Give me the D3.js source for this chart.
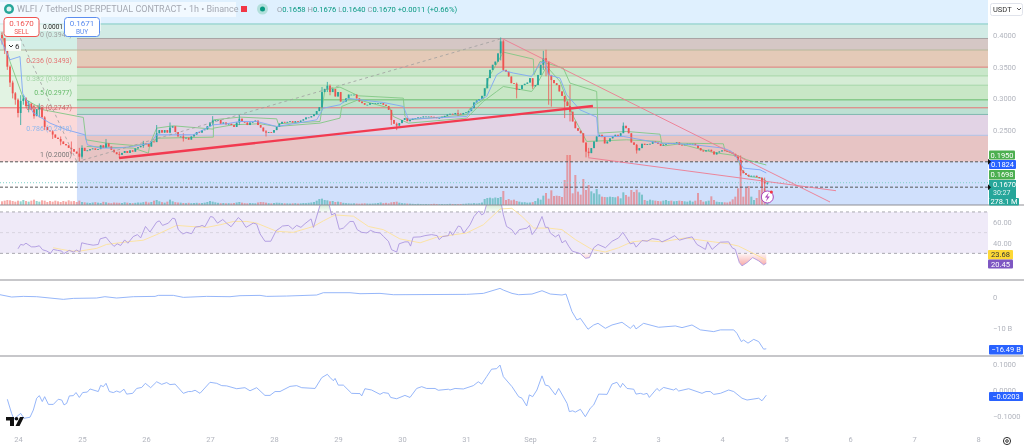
<!DOCTYPE html>
<html>
<head>
<meta charset="utf-8">
<script src="https://cdn.jsdelivr.net/npm/d3@7"></script>
<style>
  body { margin: 0; background: #fff; }
  svg { display: block; font-family: Roboto, "Liberation Sans", sans-serif; filter: blur(0.35px); }
  .tick text { fill: #b2b5be; }
</style>
</head>
<body>
<div class="chart"></div>
<script>
// hourly candles, the first one is 6 hours before Aug 24 00:00
var firstHour = -6;
var closes = [
  .395,.377,.350,.325,.308,.298,.277,.296,.300,.288,
  .292,.282,.272,.283,.286,.270,.255,.250,.248,.243,
  .238,.236,.232,.228,.226,.222,.220,.216,.213,.208,
  .222,.217,.218,.220,.221,.219,.220,.226,.222,.229,
  .224,.219,.215,.212,.211,.214,.217,.214,.218,.216,
  .221,.223,.225,.229,.228,.224,.232,.231,.245,.250,
  .246,.250,.246,.254,.256,.247,.240,.240,.237,.238,
  .235,.240,.243,.247,.246,.250,.251,.256,.262,.265,
  .266,.266,.260,.262,.259,.260,.258,.255,.262,.268,
  .263,.262,.258,.262,.263,.265,.258,.254,.248,.246,
  .247,.246,.250,.255,.260,.263,.262,.263,.264,.262,
  .264,.263,.265,.267,.270,.270,.272,.275,.280,.286,
  .310,.315,.320,.310,.315,.303,.310,.295,.295,.300,
  .306,.306,.306,.300,.295,.2925,.290,.290,.2925,.2925,
  .2925,.2925,.2925,.290,.288,.282,.266,.260,.257,.261,
  .266,.269,.264,.266,.268,.269,.270,.270,.2715,.2715,
  .2715,.271,.270,.269,.269,.271,.2725,.2745,.2757,.275,
  .277,.276,.275,.277,.278,.280,.2846,.2936,.2967,.299,
  .304,.316,.332,.345,.353,.358,.371,.390,.345,.342,
  .3346,.324,.323,.3135,.3146,.321,.323,.325,.332,.319,
  .321,.337,.353,.3635,.358,.337,.329,.324,.321,.311,
  .304,.295,.288,.279,.2636,.253,.249,.245,.2305,.216,
  .2137,.2216,.232,.240,.2426,.239,.229,.232,.237,.240,
  .2426,.241,.245,.2568,.253,.245,.2305,.2268,.218,.2216,
  .2284,.2268,.228,.2284,.232,.2305,.2284,.2252,.2268,.228,
  .2294,.2284,.2294,.2305,.2268,.2263,.2273,.2284,.2284,.2284,
  .2263,.2216,.218,.2163,.218,.219,.2163,.2116,.2147,.2163,
  .218,.217,.216,.215,.2126,.2084,.203,.1863,.182,.1795,
  .177,.178,.178,.176,.1742,.169,.1658,.1670
];
// candles with a visible wick: index, high, low
var wicks = [
  [0,.405,.385],[1,.395,.37],[2,.378,.345],[3,.352,.318],[4,.328,.30],[5,.31,.29],[6,.30,.27],
  [7,.305,.258],[8,.305,.29],[9,.302,.285],[10,.296,.278],[12,.288,.268],[14,.292,.27],[16,.272,.25],
  [19,.25,.236],[22,.24,.226],[26,.232,.212],[29,.222,.2],[30,.226,.205],[39,.236,.222],[44,.216,.206],
  [53,.233,.222],[58,.258,.24],[63,.262,.245],[68,.245,.232],[79,.272,.258],[89,.274,.258],[99,.25,.24],
  [120,.318,.284],[122,.326,.31],[123,.322,.305],[146,.272,.258],[148,.262,.25],[171,.282,.272],
  [187,.396,.36],[188,.392,.343],[193,.325,.3],[199,.33,.315],[203,.375,.345],[204,.3767,.335],
  [205,.358,.29],[206,.335,.287],[211,.30,.269],[213,.3215,.2636],[219,.23,.207],[220,.222,.208],
  [233,.262,.25],[238,.228,.213],[276,.21,.201],[277,.21,.178],[285,.176,.16],[286,.175,.151],[287,.1676,.164]
];
var volumes = [
  220,260,300,280,240,200,260,220,300,240,200,260,320,240,200,280,260,180,240,200,
  260,220,180,240,200,280,220,240,180,260,
  180,160,140,120,150,170,140,120,190,160,130,110,150,140,130,120,160,140,120,110,130,150,140,170,
  200,150,180,260,300,220,170,140,200,320,220,170,150,140,120,110,130,110,120,130,110,120,140,180,240,200,160,
  130,110,120,100,110,100,120,150,180,140,110,100,120,110,100,150,180,170,140,110,100,120,140,130,110,100,100,90,100,110,90,100,120,110,130,150,180,
  260,360,380,300,280,220,240,180,200,170,
  130,110,100,90,100,90,80,90,100,90,80,90,100,120,150,110,130,100,
  160,180,200,140,110,100,90,80,70,60,70,60,50,60,50,60,70,60,50,60,50,60,70,60,60,50,60,70,80,
  100,90,110,90,110,150,360,420,440,400,450,420,480,
  840,300,360,280,320,240,200,160,170,140,150,170,240,400,320,560,720,380,880,540,560,540,480,
  1500,3000,3000,700,1800,800,620,1560,900,1200,820,700,960,640,500,480,470,500,480,460,520,400,
  760,600,500,900,780,920,760,620,300,250,320,280,260,240,220,260,300,240,260,220,240,260,
  240,220,200,260,200,260,720,300,200,220,260,520,300,200,180,170,160,150,200,340,500,1000,
  2700,500,1020,1140,500,300,420,900,1620,1000,278
];

var blueHours = [-6.75,-3,.75,1.75,5.75,12,18.25,25.1,26,30.75,37,43.25,49.5,52,58.25,65.75,73.25,78.25,83.25,89.5,97,103.25,112,114.5,120.75,123.9,128.25,137,144.5,146.4,168.25,172,175.75,179.5,182,185.75,192.6,195.75,197.6,198.9,203.25,205.75,210.75,217,217.6,227,240.75,248.25,255.75,264.5,267.6,270.1,272,278.25,280.6];
var blueValues = [.395,.361,.366,.308,.277,.261,.2505,.2426,.2268,.2216,.2216,.2242,.2294,.2426,.2426,.2426,.2584,.26,.2636,.2636,.2557,.26,.2662,.2846,.29,.3,.2978,.2936,.2873,.2673,.2715,.2952,.303,.3372,.344,.34,.3346,.3556,.3583,.3372,.332,.3057,.282,.2705,.24,.24,.2294,.2284,.2258,.2216,.2163,.2032,.19,.1874,.1824];
var upperHours = [-6.1,-3,2,9.5,24.5,25.5,33.25,43.25,49.5,52,58.25,73.25,73.3,83.25,97,97.6,113.25,115.1,120.75,127.6,144.5,145.1,146.4,168.25,169.5,174.5,176.4,182,193.25,193.5,195.75,198.25,204.5,207,217,217.6,228.25,240.75,241.4,248.25,264.5,265.1,270.1,273.25,280.6];
var upperValues = [.403,.358,.3004,.282,.27,.2347,.2294,.2258,.2284,.2531,.2568,.2515,.2662,.2705,.2678,.26,.2636,.3136,.3178,.3041,.3004,.2715,.2662,.2741,.2846,.2978,.332,.373,.362,.3372,.3583,.3556,.3477,.3241,.3109,.2452,.2478,.2436,.2294,.2294,.2284,.2179,.2095,.2032,.195];
var lowerHours = [25.75,43.25,48.9,49.5,52.6,73.25,73.3,80.75,90.75,97,113.25,120.75,121.4,127.6,139.5,140.75,146.4,168.25,174.5,179.5,182,192.6,194.5,198.25,203.25,208.25,213.25,228.25,240.75,242.6,248.25,255.75,260.75,269.5,271.4,273.9,278.9,280.6];
var lowerValues = [.2242,.2216,.2137,.2294,.2373,.2389,.2531,.2584,.26,.2557,.261,.2689,.2873,.2978,.2846,.2715,.261,.2689,.2952,.3109,.3188,.3109,.3215,.3504,.3267,.2715,.2321,.2347,.2321,.2252,.2284,.22,.2147,.2095,.1874,.1769,.1742,.1698];

var rsiHours = [0,1,2,3,5,6.4,8,9.2,10.8,12.2,13.2,14.8,16.4,17.2,19.2,20.8,22,23.2,23.9,26,28.2,30.1,30.8,33,34.5,36,37.2,38.5,40,41.2,43.2,44.8,46,47.8,49.5,52,53,54.2,56.4,58,58.9,60.1,61.8,63.2,65.1,66.5,68.2,69,70.1,72.2,73.2,74.8,76.8,78.2,79.9,82.6,83.9,85.5,88.2,89.5,90.8,92.6,94.8,96.8,98.2,99.2,101.4,103,104.5,106.1,107.6,109.9,110.8,113.2,114.2,116.4,117.6,118.9,120.5,122,124.5,125.8,127.2,128.9,130.8,132.2,133.9,135.8,137,138.9,140.1,142,142.9,145.1,146.4,147.2,148.2,150.8,152.6,155.1,157.2,157.9,159.2,161.4,162,163,165.1,166,167.2,169.5,171,172.8,173.9,174.8,175.8,177.6,181.1,182,183.2,185.2,186.5,188,190.9,191.8,192.8,194.6,196.5,197.8,198.8,199.6,201.5,202.8,204,205.3,206.5,207.8,210.9,212.8,214.3,215.9,217.5,220.3,222.8,225.2,226.8,227.8,229.6,230.9,231.8,234,235.9,237.8,240.3,241.5,244,246.3,248,250.9,252.8,254.6,257.8,258.6,260.3,263.4,266.5,267.8,269,270.5,271.5,273.4,275.5,277.8,279.6,280.6];
var rsiValues = [34.4,38.6,38,39.8,36.3,36.3,37.3,33.5,32.2,30,33.8,32.9,32.2,29.7,32.9,31.3,33.2,31.3,40.2,38.9,37.9,38.6,44,45.6,40.8,36.7,39.2,37.6,43,39.8,46.2,48.1,44.9,56,50.6,60.2,61.4,57,59.2,64,63.3,52.9,48.7,50.3,49,55.4,56,57,55.7,65.6,64.9,59.2,62.7,59.2,55.7,64.6,61.7,55.1,59.2,58.3,48.7,41.7,41.7,51.9,54.4,56.4,57,53.5,57,55.1,58.6,63.3,55.1,76,81.4,79.8,67.1,68.7,53.2,54.4,60.8,60.8,52.9,50.3,49.7,52.2,50.3,49.7,46.5,41.7,33.5,31.3,39.2,41.1,41.1,37,45.6,45.9,47.1,48.1,47.1,43.3,46.2,47.1,51.3,47.5,56.4,55.7,49.7,57.6,65.6,71,67.1,68.7,78.3,83,80,67.1,56,52.9,48.1,52.9,54.4,57,48.1,54.4,65.6,55.1,55.1,49.7,45.9,48.1,40.2,42.4,37,32.2,29.7,25.2,25.9,35.4,38.6,35.4,41.7,44.9,50.3,46.5,39.2,40.2,36,42.4,41.7,44.3,43.3,41.1,44,47.1,42.7,44.9,45.9,38.6,33.8,41.1,33.8,40.8,41.1,35.4,33.8,21.1,17.9,21.1,25.9,22.7,18.9,20.45];
var rsiMaHours = [13.2,16.4,20.1,23.2,29.5,33.2,40.8,47,52,59.5,64.5,70.8,75.8,80.8,85.8,89.5,97,103.2,110.8,114.5,118.9,125.8,131.4,137,143.2,150.8,157,168.2,174.5,180.8,185.2,189,193.4,199,204,209,215.2,220.2,225.2,230.2,235.2,241.5,250.2,259,266.5,270.2,274,280.6];
var rsiMaValues = [35.4,33.8,32.2,32.2,34.8,38.6,41.1,42.7,48.1,57,56,55.1,57.6,60.8,60.8,59.2,51.3,50.3,56,61.4,67.1,65.9,56,52.9,44,40.2,45.6,49.7,57.6,72.9,73.5,65.6,54.4,54.4,52.9,43.3,33.8,31.3,35.4,41.1,42.4,41.1,44.9,41.7,39.2,37,32.2,23.68];

// third pane, billions
var flowHours = [-6.75,-2.4,2,7,12,17,20.75,29.5,32.6,37,43.25,51.4,52.6,58.25,62,70.75,79.5,83.25,90.75,93.25,100.75,112,114.5,124.5,128.25,135.75,140.75,168.25,174.5,180.75,182,185.25,187.75,192.75,196.5,199.6,204,205.5,207.75,209.6,210.9,213.75,215.9,217.5,220.25,222.75,226.5,229.6,230.9,231.75,234.6,240.25,246.5,249,252.75,255.9,260.9,263.4,268.4,269.6,271.25,272.1,273.75,275.9,277.75,279.6,280.6];
var flowValues = [.63,-.1,.1,0,-.42,-.84,-.53,-.42,0,-.42,0,.1,.42,.42,-.21,.1,0,.32,.42,.1,.21,.53,1.26,1.26,.95,1.05,.63,.74,1.05,2.63,2.1,1.05,.63,.84,1.89,.84,.53,.84,-4.74,-7.37,-6.84,-10.3,-8.95,-8.42,-10,-8.95,-8.1,-10,-8.95,-10.2,-8.42,-9.68,-9.26,-9.79,-8.95,-10.5,-11.05,-10.5,-10.5,-11.6,-14.2,-13.7,-14.7,-13.5,-14.2,-16.6,-16.49];

// fourth pane
var oscHours = [-4,-2.4,-1.5,-.5,1,2.25,4.5,5.75,7,8,9.1,10,11.4,13.25,15.1,16.4,17.25,18.25,19.25,20.75,21.75,23,24.25,26,27,30.1,31,32,33,34.25,35.75,37,38.25,39.75,40.75,43,44.5,46.4,47.75,49.75,52,53.9,55.75,57,58.9,62,63.9,65.1,66.4,68.25,72,74.5,76.4,78.25,82,85.1,87,89.5,92.6,94.5,96.4,98.25,102,104.5,106.4,111.4,113.9,116,117,118.25,118.9,120.1,122,125.1,128.25,128.9,130.1,132.6,135.75,137,138.9,139.75,142,145.1,147,149.5,151.4,153.25,156.4,157.6,161.4,162,163.9,167,170.75,172.6,173.9,175.75,177.6,179.5,180.75,182,185.25,187.75,189,190.75,191.75,193,194.6,196.5,197.75,199,201.5,202.75,205.9,206.75,208,209,210.9,212.75,214.6,215.9,217.75,220.9,222.75,224.6,225.9,226.75,228.4,230.9,231.75,233.4,234.6,235.9,236.75,239.6,240.5,242.1,245.9,246.75,247.75,251.5,256.5,258,259.6,260.9,263.4,266.5,268.4,271.5,273.4,277.75,279,280.6];
var oscValues = [-.036,-.091,-.114,-.104,-.091,-.11,-.106,-.078,-.032,-.022,-.045,-.026,-.056,-.056,-.036,-.039,-.058,-.052,-.023,-.022,-.01,-.029,-.01,-.008,.004,-.006,.018,.013,.026,-.006,-.01,-.004,-.009,.003,-.016,-.013,.006,.01,.026,.009,.032,.022,.029,.021,.023,-.013,-.006,-.006,-.001,-.013,.03,.026,.017,.016,.005,.009,-.003,.009,-.021,-.021,-.006,-.006,.014,.017,.009,.006,.048,.061,.049,.036,.045,.019,.019,-.013,-.014,-.023,.005,0,-.017,-.01,-.013,-.029,-.034,-.021,-.029,.006,.013,.006,.006,-.001,.003,0,.006,.004,.017,.032,.023,.052,.081,.083,.097,.052,.013,-.026,-.032,-.062,-.019,-.026,0,.055,.019,.016,-.019,.006,-.052,-.084,-.081,-.086,-.075,-.104,-.071,-.058,-.016,-.017,.023,.03,.01,.026,.006,.003,-.016,-.013,-.017,-.013,-.029,.006,-.003,.01,0,.006,-.004,.005,-.013,-.006,-.006,-.017,-.013,0,-.006,-.032,-.039,-.032,-.042,-.0203];

// price levels of the drawn fib zones, top to bottom
var farLevels = [.4174,.3945,.3763,.3493,.3355,.3208,.2977,.2852,.2747,.2418,.2000,.1319];
var farColors = ["#d1ebe5","#d5c7c5","#e4cab8","#c9e7ca","#d5ecd5","#c8e7c6","#bfe3cc","#bde0d3","#e2d3e5","#e7c4c4","#d0e0fc"];
var nearLevels = [.4174,.3763,.2852,.2000];
var nearColors = ["#d3eee6","#e2f3e3","#fbd9d9"];
var levelLines = [.4174,.3945,.3763,.3493,.3355,.3208,.2977,.2852,.2747,.2418];
var levelLineColors = ["#80cbc4","#a9a4a4","#b5b89a","#e07a7a","#a5d6a7","#a5d6a7","#66bb6a","#e57373","#80b8b0","#b0c4e8"];
var fibLabels = ["0.236 (0.3493)","0.382 (0.3208)","0.5 (0.2977)","0.618 (0.2747)","0.786 (0.2418)","1 (0.2000)"];
var fibPrices = [.3493,.3208,.2977,.2747,.2418,.2000];
var fibColors = ["#e57373","#a5d6a7","#66bb6a","#c66b6b","#90b8ee","#777"];

var dayHours = [0,24,48,72,96,120,144,168,192,216,240,264,288,312,336,360];
var dayLabels = ["24","25","26","27","28","29","30","31","Sep","2","3","4","5","6","7","8"];
var priceTicks = [.40,.35,.30,.25];
var rsiTicks = [60,40];
var flowTicks = [0,-10];
var oscTicks = [.1,0,-.1];

var svg = d3.select(".chart").append("svg").attr("width",1024).attr("height",448);
var defs = svg.append("defs");

var paneLeft = 0, paneRight = 988;
var x = d3.scaleLinear().domain([0,360]).range([18,978]);
var yPrice = d3.scaleLinear().domain([.40,.25]).range([35,130.1]);
var yVol = d3.scaleLinear().domain([0,3000]).range([205,155]);
var yRsi = d3.scaleLinear().domain([60,40]).range([222.3,243]);
var yFlow = d3.scaleLinear().domain([0,-10]).range([296.7,328.3]);
var yOsc = d3.scaleLinear().domain([.1,-.1]).range([364.3,415.7]);

function addClip(id, top, bottom) {
  defs.append("clipPath").attr("id",id).append("rect")
    .attr("x",paneLeft).attr("y",top).attr("width",paneRight-paneLeft).attr("height",bottom-top);
}
addClip("pricePane",0,205);
addClip("rsiPane",205,280);
addClip("rsiOver",205,yRsi(70));
addClip("rsiUnder",yRsi(30),280);

// top strip above the fib zones
svg.append("rect").attr("x",0).attr("y",0).attr("width",paneRight).attr("height",yPrice(farLevels[0])).attr("fill","#dff0fe");

var fibStart = x(22.1);
var zones = svg.append("g");
farColors.forEach(function(c,i){
  zones.append("rect").attr("x",fibStart).attr("y",yPrice(farLevels[i]))
    .attr("width",paneRight-fibStart).attr("height",yPrice(farLevels[i+1])-yPrice(farLevels[i])).attr("fill",c);
});
nearColors.forEach(function(c,i){
  zones.append("rect").attr("x",0).attr("y",yPrice(nearLevels[i]))
    .attr("width",fibStart).attr("height",yPrice(nearLevels[i+1])-yPrice(nearLevels[i])).attr("fill",c);
});
levelLines.forEach(function(p,i){
  var startsAtFib = [.3945,.3493,.3208,.2977,.2747,.2418].indexOf(p) >= 0;
  svg.append("line").attr("x1",startsAtFib ? fibStart : 0).attr("x2",paneRight)
    .attr("y1",yPrice(p)).attr("y2",yPrice(p)).attr("stroke",levelLineColors[i]).attr("stroke-width",1);
});

// volume
var barWidth = 2;
svg.append("g").selectAll("rect").data(volumes).enter().append("rect")
  .attr("x",function(d,i){ return x(i+firstHour)-barWidth/2; })
  .attr("y",function(d){ return yVol(d); })
  .attr("width",barWidth)
  .attr("height",function(d){ return yVol(0)-yVol(d); })
  .attr("fill",function(d,i){
    var o = i ? closes[i-1] : .40;
    return closes[i] >= o ? "#26a69a" : "#ef5350";
  })
  .attr("opacity",.5);

// horizontal markers
svg.append("line").attr("x1",0).attr("x2",paneRight).attr("y1",yPrice(.2)).attr("y2",yPrice(.2))
  .attr("stroke","#555").attr("stroke-dasharray","3,2");
svg.append("line").attr("x1",0).attr("x2",paneRight).attr("y1",yPrice(.16)).attr("y2",yPrice(.16))
  .attr("stroke","#555").attr("stroke-dasharray","3,2");
svg.append("line").attr("x1",0).attr("x2",paneRight).attr("y1",yPrice(.167)).attr("y2",yPrice(.167))
  .attr("stroke","#7fd0c8").attr("stroke-dasharray","1,2");

var main = svg.append("g").attr("clip-path","url(#pricePane)");

function priceLine(hours, values, color, width) {
  var line = d3.line().x(function(d){ return x(d); }).y(function(d,i){ return yPrice(values[i]); });
  return main.append("path").attr("d",line(hours)).attr("fill","none").attr("stroke",color).attr("stroke-width",width);
}
priceLine(upperHours,upperValues,"#81c784",.9);
priceLine(lowerHours,lowerValues,"#81c784",.9);

// candles
var wickByIndex = {};
wicks.forEach(function(w){ wickByIndex[w[0]] = w; });
var candles = main.append("g").selectAll("g").data(closes).enter().append("g");
function candleColor(d,i){
  var o = i ? closes[i-1] : .40;
  return d >= o ? "#26a69a" : "#ef5350";
}
candles.append("line")
  .attr("x1",function(d,i){ return x(i+firstHour); })
  .attr("x2",function(d,i){ return x(i+firstHour); })
  .attr("y1",function(d,i){
    var o = i ? closes[i-1] : .40;
    return yPrice(wickByIndex[i] ? wickByIndex[i][1] : Math.max(o,d));
  })
  .attr("y2",function(d,i){
    var o = i ? closes[i-1] : .40;
    return yPrice(wickByIndex[i] ? wickByIndex[i][2] : Math.min(o,d));
  })
  .attr("stroke",candleColor).attr("stroke-width",.8);
candles.append("rect")
  .attr("x",function(d,i){ return x(i+firstHour)-.9; })
  .attr("width",1.8)
  .attr("y",function(d,i){ return yPrice(Math.max(i ? closes[i-1] : .40,d)); })
  .attr("height",function(d,i){
    var o = i ? closes[i-1] : .40;
    return Math.max(.8,yPrice(Math.min(o,d))-yPrice(Math.max(o,d)));
  })
  .attr("fill",candleColor);

priceLine(blueHours,blueValues,"#7fa6f5",.9);

// hand drawn lines on the chart
priceLine([-1.9,22.1],[.4205,.2],"#9e9e9e",.8).attr("stroke-dasharray","3,3");
priceLine([22.1,181.5],[.2,.3945],"#9e9e9e",.8).attr("stroke-dasharray","3,3");
priceLine([181.5,304.5],[.3945,.1366],"#ee7a90",.9);
priceLine([213.75,306.75],[.2065,.1544],"#ee7a90",.9);
priceLine([37.9,215.6],[.206,.288],"#f23a50",2.3);

// rsi pane
svg.append("rect").attr("x",0).attr("y",yRsi(70)).attr("width",paneRight).attr("height",yRsi(30)-yRsi(70)).attr("fill","#efeaf8");
[70,50,30].forEach(function(v){
  svg.append("line").attr("x1",0).attr("x2",paneRight).attr("y1",yRsi(v)).attr("y2",yRsi(v))
    .attr("stroke",v==50 ? "#d8d4e0" : "#a9a9b0").attr("stroke-dasharray","3,3");
});
var overGrad = defs.append("linearGradient").attr("id","overGrad").attr("gradientUnits","userSpaceOnUse")
  .attr("x1",0).attr("x2",0).attr("y1",yRsi(83)).attr("y2",yRsi(70));
overGrad.append("stop").attr("offset",0).attr("stop-color","#66bb6a").attr("stop-opacity",.45);
overGrad.append("stop").attr("offset",1).attr("stop-color","#66bb6a").attr("stop-opacity",.05);
var underGrad = defs.append("linearGradient").attr("id","underGrad").attr("gradientUnits","userSpaceOnUse")
  .attr("x1",0).attr("x2",0).attr("y1",yRsi(30)).attr("y2",yRsi(18));
underGrad.append("stop").attr("offset",0).attr("stop-color","#ef5350").attr("stop-opacity",.05);
underGrad.append("stop").attr("offset",1).attr("stop-color","#ef5350").attr("stop-opacity",.5);

var rsiOver = d3.area().x(function(d){ return x(d); }).y0(yRsi(70)).y1(function(d,i){ return yRsi(rsiValues[i]); });
var rsiUnder = d3.area().x(function(d){ return x(d); }).y0(yRsi(30)).y1(function(d,i){ return yRsi(rsiValues[i]); });
svg.append("g").attr("clip-path","url(#rsiOver)").append("path").attr("d",rsiOver(rsiHours)).attr("fill","url(#overGrad)");
svg.append("g").attr("clip-path","url(#rsiUnder)").append("path").attr("d",rsiUnder(rsiHours)).attr("fill","url(#underGrad)");

function paneLine(hours, values, scale, color, clip) {
  var line = d3.line().x(function(d){ return x(d); }).y(function(d,i){ return scale(values[i]); });
  var p = svg.append("path").attr("d",line(hours)).attr("fill","none").attr("stroke",color).attr("stroke-width",.9);
  if (clip) p.attr("clip-path",clip);
}
paneLine(rsiMaHours,rsiMaValues,yRsi,"#fde29a","url(#rsiPane)");
paneLine(rsiHours,rsiValues,yRsi,"#ad97e0","url(#rsiPane)");
paneLine(flowHours,flowValues,yFlow,"#8aaef8");
paneLine(oscHours,oscValues,yOsc,"#8aaef8");

// pane separators
[205,280,356].forEach(function(y){
  svg.append("line").attr("x1",0).attr("x2",1024).attr("y1",y).attr("y2",y).attr("stroke","#8f8f96").attr("stroke-width",1.2);
});

// axes
function rightAxis(scale, ticks, format) {
  var g = svg.append("g").attr("transform","translate(990,0)")
    .call(d3.axisRight(scale).tickValues(ticks).tickSize(0).tickPadding(3).tickFormat(format))
    .style("font-size","7.5px").style("font-family","inherit");
  g.select(".domain").remove();
}
rightAxis(yPrice,priceTicks,d3.format(".4f"));
rightAxis(yRsi,rsiTicks,d3.format(".2f"));
rightAxis(yFlow,flowTicks,function(d){ return d ? "\u2212" + Math.abs(d) + " B" : "0"; });
rightAxis(yOsc,oscTicks,function(d){ return d.toFixed(4).replace("-","\u2212"); });

var bottomAxis = svg.append("g").attr("transform","translate(0,437)")
  .call(d3.axisBottom(x).tickValues(dayHours).tickSize(0).tickPadding(0)
    .tickFormat(function(d,i){ return dayLabels[i]; }))
  .style("font-size","7.5px").style("font-family","inherit");
bottomAxis.select(".domain").remove();

// value tags on the right
function tag(x0, y0, w, h, fill, label, textColor) {
  svg.append("rect").attr("x",x0).attr("y",y0).attr("width",w).attr("height",h).attr("rx",1).attr("fill",fill);
  svg.append("text").attr("x",x0+w/2).attr("y",y0+h/2+2.7).attr("text-anchor","middle")
    .attr("font-size",7.5).attr("fill",textColor || "#fff").text(label);
}
tag(989,150.5,26,9,"#4caf50","0.1950");
tag(989,160,27,9,"#2962ff","0.1824");
tag(989,170,26,9.5,"#4caf50","0.1698");
svg.append("rect").attr("x",989).attr("y",180).attr("width",27).attr("height",18).attr("fill","#26a69a");
svg.append("text").attr("x",993).attr("y",187).attr("font-size",7.5).attr("fill","#fff").text("0.1670");
svg.append("text").attr("x",993).attr("y",195).attr("font-size",7).attr("fill","#e0f2f1").text("30:27");
tag(989,198,30,7.5,"#26a69a","278.1 M");
tag(988,250,25,9.5,"#fdd835","23.68","#333");
tag(988,259.5,25,9,"#7e57c2","20.45");
tag(989,345,34,9.5,"#2962ff","\u221216.49 B");
tag(989,392,34,9,"#2962ff","\u22120.0203");
[yPrice(.2),yPrice(.16)].forEach(function(y){
  svg.append("path").attr("d","M988 "+(y-3)+"l3 3l-3 3z").attr("fill","#111");
});

// USDT box
svg.append("rect").attr("x",990.5).attr("y",3.5).attr("width",32).attr("height",12).attr("rx",2).attr("fill","#fff").attr("stroke","#e0e3eb");
svg.append("text").attr("x",993).attr("y",12).attr("font-size",7.5).attr("fill","#333").text("USDT");
svg.append("path").attr("d","M1017 8l2 2l2-2").attr("fill","none").attr("stroke","#555");

// fib labels, right aligned on the start of the fib
fibLabels.forEach(function(l,i){
  svg.append("text").attr("x",72).attr("y",yPrice(fibPrices[i])-4.5).attr("text-anchor","end")
    .attr("font-size",7).attr("fill",fibColors[i]).text(l);
});
svg.append("text").attr("x",72).attr("y",37).attr("text-anchor","end").attr("font-size",7).attr("fill","#a0a0a0").text("0 (0.3945)");

// header
svg.append("rect").attr("x",0).attr("y",2).attr("width",236).attr("height",15).attr("fill","#fff").attr("opacity",.6);
svg.append("rect").attr("x",0).attr("y",17).attr("width",101).attr("height",14).attr("fill","#fff").attr("opacity",.6);
svg.append("circle").attr("cx",9).attr("cy",9).attr("r",5).attr("fill","#26a69a");
svg.append("circle").attr("cx",9).attr("cy",9).attr("r",2.5).attr("fill","#e0f2f1");
svg.append("text").attr("x",17).attr("y",12).attr("font-size",9).attr("fill","#a4a8b2")
  .text("WLFI / TetherUS PERPETUAL CONTRACT \u2022 1h \u2022 Binance");
svg.append("rect").attr("x",241).attr("y",6).attr("width",6).attr("height",6).attr("fill","#f23645");
svg.append("circle").attr("cx",262.5).attr("cy",9).attr("r",5.5).attr("fill","#b2dfdb");
svg.append("circle").attr("cx",262.5).attr("cy",9).attr("r",2.5).attr("fill","#089981");

var ohlcLabels = ["O","H","L","C"];
var ohlcValues = ["0.1658","0.1676","0.1640","0.1670"];
var ohlc = svg.append("text").attr("x",277).attr("y",12).attr("font-size",7.6);
ohlcLabels.forEach(function(l,i){
  ohlc.append("tspan").attr("fill","#9a9ea8").text(l);
  ohlc.append("tspan").attr("fill","#089981").text(ohlcValues[i] + " ");
});
ohlc.append("tspan").attr("fill","#089981").text("+0.0011 (+0.66%)");

function tradeBox(x0, color, price, label) {
  svg.append("rect").attr("x",x0).attr("y",17.5).attr("width",35).attr("height",19).attr("rx",3).attr("fill","#fff").attr("stroke",color);
  svg.append("text").attr("x",x0+17.5).attr("y",26).attr("text-anchor","middle").attr("font-size",8).attr("fill",color).text(price);
  svg.append("text").attr("x",x0+17.5).attr("y",34).attr("text-anchor","middle").attr("font-size",6.5).attr("fill",color).text(label);
}
tradeBox(4,"#ef5350","0.1670","SELL");
tradeBox(64.5,"#5b8def","0.1671","BUY");
svg.append("text").attr("x",43).attr("y",29).attr("font-size",6.5).attr("fill","#222").text("0.0001");

// collapsed indicators button
svg.append("rect").attr("x",6).attr("y",41).attr("width",15).attr("height",10).attr("fill","#fff").attr("opacity",.85);
svg.append("path").attr("d","M9 45l2 2l2-2").attr("fill","none").attr("stroke","#333");
svg.append("text").attr("x",15).attr("y",49).attr("font-size",8).attr("fill","#333").text("6");

// alert marker on the last candle
var mx = x(281);
svg.append("circle").attr("cx",mx).attr("cy",197).attr("r",6).attr("fill","#fff").attr("stroke","#ab47bc").attr("stroke-width",1);
svg.append("path").attr("d","M"+(mx+1.5)+" 192.5l-4 5h2.5l-1.5 4l4-5h-2.5z").attr("fill","#ab47bc");
svg.append("circle").attr("cx",mx+4).attr("cy",192).attr("r",1.6).attr("fill","#f23645");

// tradingview logo and the settings gear
svg.append("path").attr("d","M6 417h8v9h-4v-5.5H6z M20 417h4l-4.5 9h-4z").attr("fill","#111");
svg.append("circle").attr("cx",16.5).attr("cy",418.8).attr("r",1.8).attr("fill","#111");
svg.append("circle").attr("cx",1007).attr("cy",441).attr("r",3.6).attr("fill","none").attr("stroke","#333");
svg.append("circle").attr("cx",1007).attr("cy",441).attr("r",1.3).attr("fill","none").attr("stroke","#333");
</script>
</body>
</html>
